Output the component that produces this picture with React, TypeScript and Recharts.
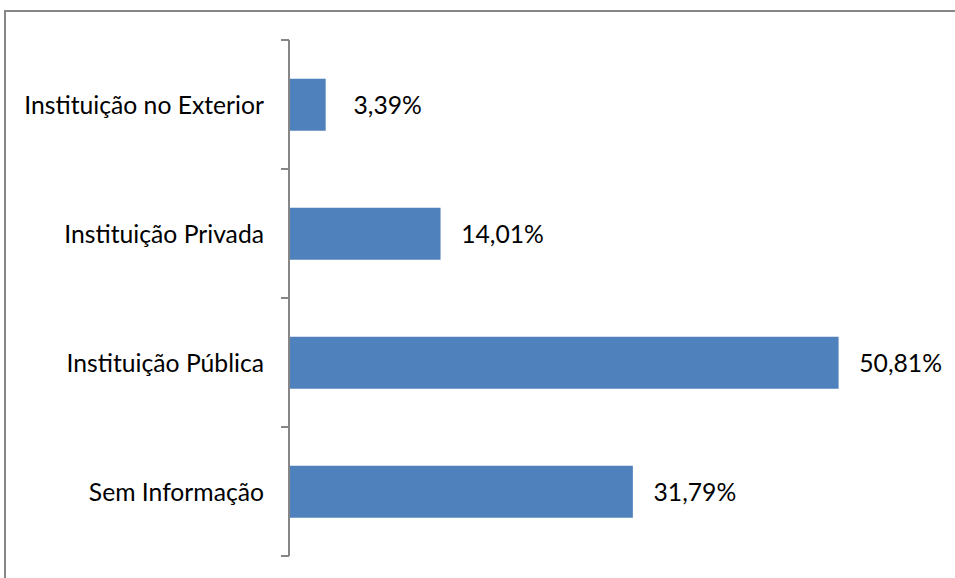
import { Bar, BarChart, LabelList, XAxis, YAxis } from "recharts";

const categories = ["Instituição no Exterior", "Instituição Privada", "Instituição Pública", "Sem Informação"];
const shares = [3.39, 14.01, 50.81, 31.79];

const data = categories.map((name, i) => ({ name, value: shares[i] }));

const FONT = "Lato, 'Noto Sans', sans-serif";
const FONT_SIZE = 24.7;
const AXIS_GRAY = "#868686";

function formatPct(v: number) {
  return v.toFixed(2).replace(".", ",") + "%";
}

function CategoryTick(props: any) {
  const { x, y, payload, index, visibleTicksCount } = props;
  const half = payload?.offset ?? 0;
  const isLast = index === visibleTicksCount - 1;
  return (
    <g>
      <text
        x={x}
        y={y}
        textAnchor="end"
        dominantBaseline="central"
        fontFamily={FONT}
        fontSize={FONT_SIZE}
        fill="#000"
      >
        {payload.value}
      </text>
      <line x1={x + 17} x2={x + 25} y1={y - half} y2={y - half} stroke={AXIS_GRAY} strokeWidth={2} />
      {isLast ? (
        <line x1={x + 17} x2={x + 25} y1={y + half} y2={y + half} stroke={AXIS_GRAY} strokeWidth={2} />
      ) : null}
    </g>
  );
}

function ValueLabel(props: any) {
  const { x, y, width, height, value } = props;
  return (
    <text
      x={x + width + 62}
      y={y + height / 2}
      textAnchor="middle"
      dominantBaseline="central"
      fontFamily={FONT}
      fontSize={FONT_SIZE}
      fill="#000"
    >
      {formatPct(Number(value))}
    </text>
  );
}

export default function App() {
  return (
    <div style={{ position: "absolute", left: 0, top: 0, width: 955, height: 578, overflow: "hidden", background: "#fff" }}>
      <div
        style={{
          position: "absolute",
          left: 4,
          top: 10,
          width: 1000,
          height: 1000,
          border: `2px solid ${AXIS_GRAY}`,
        }}
      />
      <div style={{ position: "absolute", left: 0, top: 0 }}>
        <BarChart
          layout="vertical"
          width={955}
          height={578}
          data={data}
          margin={{ top: 40, right: 17, bottom: 22, left: 0 }}
          barCategoryGap="30%"
        >
          <XAxis type="number" domain={[0, 60]} hide />
          <YAxis
            type="category"
            dataKey="name"
            width={289}
            tickLine={false}
            tickSize={0}
            tickMargin={25}
            axisLine={{ stroke: AXIS_GRAY, strokeWidth: 2 }}
            tick={<CategoryTick />}
            interval={0}
          />
          <Bar dataKey="value" fill="#4F81BD" isAnimationActive={false}>
            <LabelList dataKey="value" content={<ValueLabel />} />
          </Bar>
        </BarChart>
      </div>
    </div>
  );
}
